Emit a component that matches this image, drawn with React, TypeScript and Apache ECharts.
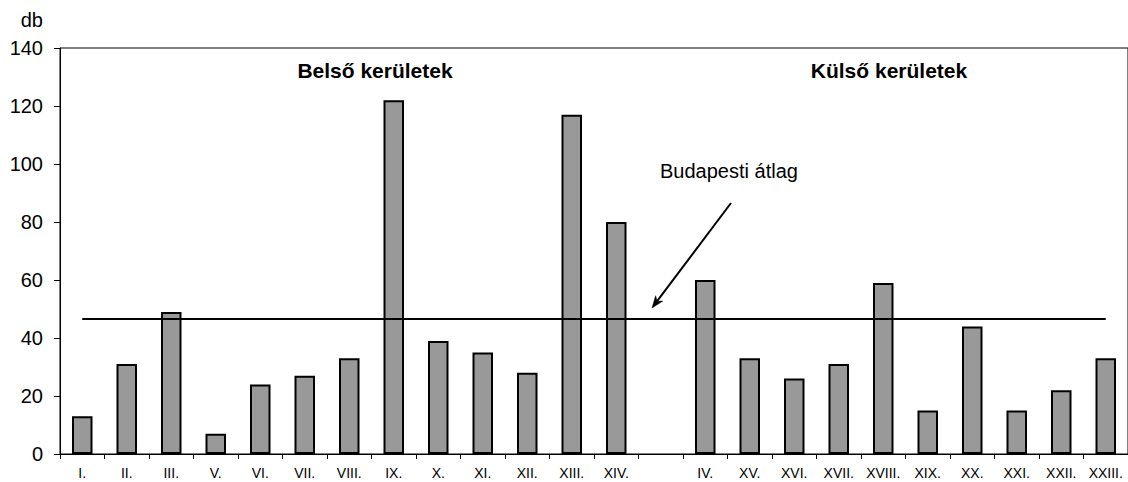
import React, { useEffect, useRef } from "react";
import * as echarts from "echarts";

const categories = [
  "I.", "II.", "III.", "V.", "VI.", "VII.", "VIII.", "IX.", "X.", "XI.", "XII.", "XIII.", "XIV.",
  "",
  "IV.", "XV.", "XVI.", "XVII.", "XVIII.", "XIX.", "XX.", "XXI.", "XXII.", "XXIII.",
];
const values: (number | null)[] = [
  13, 31, 49, 7, 24, 27, 33, 122, 39, 35, 28, 117, 80,
  null,
  60, 33, 26, 31, 59, 15, 44, 15, 22, 33,
];
const budapestAverage = 46.8;
const yTicks = { min: 0, max: 140, interval: 20 };
const groupLabels = ["Belső kerületek", "Külső kerületek"];
const averageLabel = "Budapesti átlag";
const unitLabel = "db";

const FONT = '"Liberation Sans", Arial, sans-serif';

export default function App() {
  const ref = useRef<HTMLDivElement>(null);

  useEffect(() => {
    if (!ref.current) return;
    const chart = echarts.init(ref.current, null, { renderer: "svg" });

    // arrow geometry (annotation)
    const tail = [731, 203];
    const tip = [652, 308];
    const dx = tip[0] - tail[0];
    const dy = tip[1] - tail[1];
    const len = Math.sqrt(dx * dx + dy * dy);
    const ux = dx / len;
    const uy = dy / len;
    const nx = -uy;
    const ny = ux;
    const headLen = 12;
    const headHalf = 4.5;
    const base = [tip[0] - headLen * ux, tip[1] - headLen * uy];
    const notch = [tip[0] - 8.5 * ux, tip[1] - 8.5 * uy];
    const barb1 = [base[0] + headHalf * nx, base[1] + headHalf * ny];
    const barb2 = [base[0] - headHalf * nx, base[1] - headHalf * ny];

    chart.setOption({
      animation: false,
      backgroundColor: "#ffffff",
      textStyle: { fontFamily: FONT, color: "#000" },
      grid: {
        left: 60,
        right: -4,
        top: 48,
        bottom: 28,
        show: true,
        borderColor: "#000",
        borderWidth: 1,
        backgroundColor: "transparent",
      },
      xAxis: {
        type: "category",
        data: categories,
        boundaryGap: true,
        axisLine: { show: true, lineStyle: { color: "#000", width: 1 } },
        axisTick: { show: true, interval: 0, length: 5, lineStyle: { color: "#000" } },
        axisLabel: {
          interval: 0,
          fontSize: 14,
          color: "#000",
          fontFamily: FONT,
          margin: 12,
        },
        splitLine: { show: false },
      },
      yAxis: {
        type: "value",
        min: yTicks.min,
        max: yTicks.max,
        interval: yTicks.interval,
        axisLine: { show: true, lineStyle: { color: "#000", width: 1 } },
        axisTick: { show: true, length: 6, lineStyle: { color: "#000" } },
        axisLabel: { fontSize: 20, color: "#000", fontFamily: FONT, margin: 17 },
        splitLine: { show: false },
      },
      series: [
        {
          type: "bar",
          data: values,
          barWidth: 20.5,
          itemStyle: { color: "#999999", borderColor: "#000", borderWidth: 2 },
          silent: true,
          markLine: {
            silent: true,
            symbol: "none",
            label: { show: false },
            lineStyle: { color: "#000", width: 2, type: "solid" },
            data: [
              [
                { coord: [0, budapestAverage] },
                { coord: [categories.length - 1, budapestAverage] },
              ],
            ],
          },
        },
      ],
      graphic: [
        {
          type: "text",
          x: 43,
          y: 20,
          style: {
            text: unitLabel,
            fontSize: 20,
            fontFamily: FONT,
            fill: "#000",
            align: "right",
            verticalAlign: "middle",
          },
        },
        {
          type: "text",
          x: 375,
          y: 70,
          style: {
            text: groupLabels[0],
            fontSize: 21,
            fontWeight: "bold",
            fontFamily: FONT,
            fill: "#000",
            align: "center",
            verticalAlign: "middle",
          },
        },
        {
          type: "text",
          x: 889,
          y: 70,
          style: {
            text: groupLabels[1],
            fontSize: 21,
            fontWeight: "bold",
            fontFamily: FONT,
            fill: "#000",
            align: "center",
            verticalAlign: "middle",
          },
        },
        {
          type: "text",
          x: 660,
          y: 171,
          style: {
            text: averageLabel,
            fontSize: 20,
            fontFamily: FONT,
            fill: "#000",
            align: "left",
            verticalAlign: "middle",
          },
        },
        {
          type: "line",
          shape: { x1: tail[0], y1: tail[1], x2: notch[0], y2: notch[1] },
          style: { stroke: "#000", lineWidth: 2 },
          z: 100,
        },
        {
          type: "polygon",
          shape: { points: [tip, barb1, notch, barb2] },
          style: { fill: "#000", stroke: "#000", lineWidth: 0.5 },
          z: 100,
        },
      ],
    });

    return () => {
      chart.dispose();
    };
  }, []);

  return (
    <div
      ref={ref}
      style={{ position: "fixed", left: 0, top: 0, width: 1128, height: 482, background: "#fff" }}
    />
  );
}
